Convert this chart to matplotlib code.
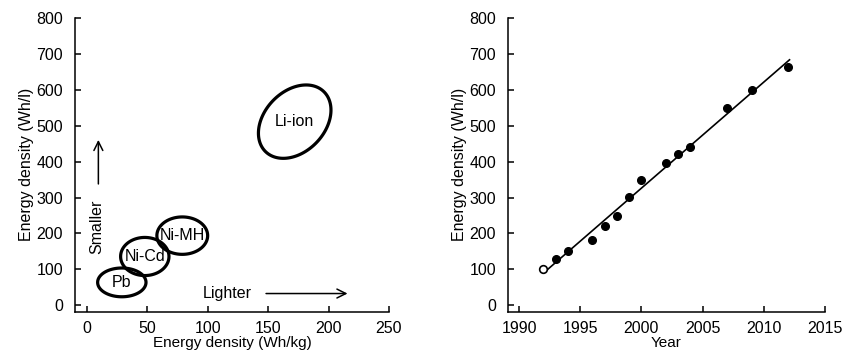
import numpy as np
import matplotlib
matplotlib.use("Agg")
import matplotlib.pyplot as plt

plt.rcParams['font.family'] = ['Liberation Sans', 'DejaVu Sans']
plt.rcParams['font.size'] = 11.5

# battery chemistries: centre and half-extent of each region
chem = ['Pb', 'Ni-Cd', 'Ni-MH', 'Li-ion']
wh_kg = [29, 48, 79, 172]
wh_l = [64, 136, 194, 511]
wh_kg_half = [20, 20, 21, 30]
wh_l_half = [40, 53, 52, 102]
tilt = [0.0, 0.0, 0.0, 0.32]

# volumetric energy density of Li-ion cells by year
years = [1993, 1994, 1996, 1997, 1998, 1999, 2000, 2002, 2003, 2004, 2007, 2009, 2012]
density = [130, 152, 183, 220, 250, 302, 350, 396, 420, 440, 550, 600, 662]
first_year = [1992]
first_density = [102]
trend_years = [1992.1, 2012.1]
trend_density = [93, 683]

FS = 11.5


def style_axes(ax):
    for s in ('top', 'right'):
        ax.spines[s].set_visible(False)
    for s in ('left', 'bottom'):
        ax.spines[s].set_linewidth(1.1)
    ax.tick_params(direction='in', length=4, width=1.1, labelsize=FS)
    ax.tick_params(axis='y', pad=8.5)
    ax.tick_params(axis='x', pad=6.5)


fig = plt.figure(figsize=(8.44, 3.51), dpi=100)

# left: Wh/l versus Wh/kg
ax1 = fig.add_axes([0.0889, 0.1125, 0.372, 0.837])
t = np.linspace(0, 2 * np.pi, 200)
for name, cx, cy, a, b, d in zip(chem, wh_kg, wh_l, wh_kg_half, wh_l_half, tilt):
    ax1.fill(cx + a * np.cos(t), cy + b * np.sin(t + d), fill=False,
             edgecolor='black', lw=2.3)
    ax1.text(cx, cy, name, ha='center', va='center', fontsize=FS)

ax1.annotate('', xy=(9.6, 468), xytext=(9.6, 330),
             arrowprops=dict(arrowstyle='->', lw=1.1, mutation_scale=16))
ax1.text(8, 218, 'Smaller', rotation=90, ha='center', va='center', fontsize=FS)
ax1.annotate('', xy=(218, 33), xytext=(146, 33),
             arrowprops=dict(arrowstyle='->', lw=1.1, mutation_scale=16))
ax1.text(116, 33, 'Lighter', ha='center', va='center', fontsize=FS)

ax1.set_xlim(-9.7, 250)
ax1.set_ylim(-17, 800)
ax1.set_xticks(range(0, 251, 50))
ax1.set_yticks(range(0, 801, 100))
ax1.set_xlabel('Energy density (Wh/kg)', fontsize=11, labelpad=0)
ax1.set_ylabel('Energy density (Wh/l)', fontsize=FS, labelpad=2)
style_axes(ax1)

# right: Wh/l by year with linear trend
ax2 = fig.add_axes([0.6019, 0.1125, 0.3756, 0.837])
ax2.plot(trend_years, trend_density, color='black', lw=1.2)
ax2.plot(years, density, 'o', color='black', ms=5.5)
ax2.plot(first_year, first_density, 'o', mfc='white', mec='black', mew=1.2, ms=5.5)
ax2.set_xlim(1989.1, 2015)
ax2.set_ylim(-17, 800)
ax2.set_xticks(range(1990, 2016, 5))
ax2.set_yticks(range(0, 801, 100))
ax2.set_xlabel('Year', fontsize=11, labelpad=0)
ax2.set_ylabel('Energy density (Wh/l)', fontsize=FS, labelpad=2)
style_axes(ax2)

fig.savefig('out.png', dpi=100)
